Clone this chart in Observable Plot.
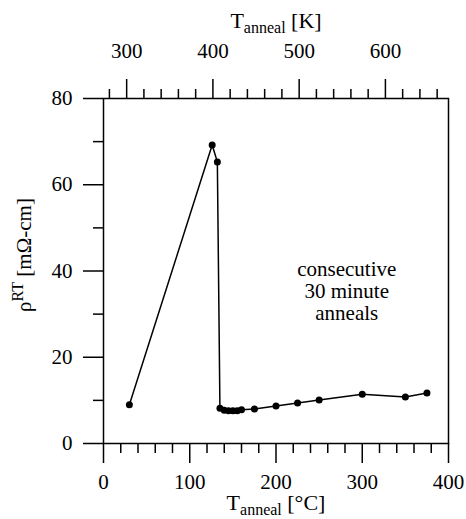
<!DOCTYPE html>
<html><head><meta charset="utf-8">
<script src="https://cdn.jsdelivr.net/npm/d3@7"></script>
<script src="https://cdn.jsdelivr.net/npm/@observablehq/plot@0.6"></script>
<style>body{margin:0;background:#fff} svg{display:block}</style>
</head><body><div id="chart"></div>
<script>
// Data
const tempC = [30, 126, 132, 135, 140, 145, 150, 155, 160, 175, 200, 225, 250, 300, 350, 375];
const rho   = [9.0, 69.2, 65.3, 8.2, 7.7, 7.6, 7.6, 7.6, 7.8, 8.0, 8.7, 9.4, 10.1, 11.4, 10.8, 11.7];

// Ticks
const xMajor = [0, 100, 200, 300, 400];
const xMinor = [20, 40, 60, 80, 120, 140, 160, 180, 220, 240, 260, 280, 320, 340, 360, 380];
const kMajor = [300, 400, 500, 600];
const kMinor = [280, 320, 340, 360, 380, 420, 440, 460, 480, 520, 540, 560, 580, 620, 640, 660];
const yMajor = [0, 20, 40, 60, 80];
const yMinor = [10, 30, 50, 70];
const kelvinOffset = 273.15;

// Texts
const topTitle = ["T_{anneal} [K]"];
const bottomTitle = ["T_{anneal} [°C]"];
const yTitle = ["ρ^{RT} [mΩ-cm]"];
const annotation = ["consecutive\n30 minute\nanneals"];
const annotX = [282];
const annotY = [35.3];

const font = "Times New Roman, Liberation Serif, DejaVu Serif, serif";

const chart = Plot.plot({
  width: 466, height: 519,
  marginLeft: 103, marginRight: 18, marginTop: 98, marginBottom: 76,
  style: {fontFamily: font, fontSize: "21px", color: "black", background: "white"},
  x: {domain: [0, 400]},
  y: {domain: [0, 80]},
  marks: [
    Plot.axisX({anchor: "bottom", ticks: xMajor, tickSize: 20, tickPadding: 11, label: null, strokeWidth: 1.5}),
    Plot.axisX({anchor: "bottom", ticks: xMinor, tickSize: 10, tickFormat: () => "", label: null, strokeWidth: 1.5}),
    Plot.axisX({anchor: "top", ticks: kMajor.map(k => k - kelvinOffset), tickFormat: d => Math.round(d + kelvinOffset), tickSize: 20, tickPadding: 21, label: null, strokeWidth: 1.5}),
    Plot.axisX({anchor: "top", ticks: kMinor.map(k => k - kelvinOffset), tickSize: 10, tickFormat: () => "", label: null, strokeWidth: 1.5}),
    Plot.axisY({ticks: yMajor, tickSize: 20, tickPadding: 11, label: null, strokeWidth: 1.5}),
    Plot.axisY({ticks: yMinor, tickSize: 10, tickFormat: () => "", label: null, strokeWidth: 1.5}),
    Plot.frame({strokeWidth: 1.5}),
    Plot.line(rho, {x: tempC, y: rho, stroke: "black", strokeWidth: 1.5}),
    Plot.dot(rho, {x: tempC, y: rho, r: 3.5, fill: "black", stroke: "none"}),
    Plot.text(annotation, {x: annotX, y: annotY, text: d => d, fontSize: 21, lineHeight: 1.05}),
    Plot.text(topTitle, {frameAnchor: "top", dy: -86, text: d => d, fontSize: 22}),
    Plot.text(bottomTitle, {frameAnchor: "bottom", dy: 66, text: d => d, fontSize: 22}),
    Plot.text(yTitle, {frameAnchor: "left", textAnchor: "middle", dx: -79, dy: -16, rotate: -90, text: d => d, fontSize: 21})
  ]
});

// Turn _{..} and ^{..} into subscript / superscript tspans
d3.select(chart).selectAll("text").each(function() {
  const el = this;
  const s = el.textContent;
  if (!/[_^]\{/.test(s)) return;
  el.textContent = "";
  const re = /([_^])\{([^}]*)\}|([^_^]+)/g;
  let m, shift = 0;
  while ((m = re.exec(s))) {
    const t = document.createElementNS("http://www.w3.org/2000/svg", "tspan");
    if (m[1]) {
      const d = m[1] === "_" ? 5 : -8;
      t.setAttribute("dy", d - shift);
      shift = d;
      t.setAttribute("font-size", "16px");
      t.textContent = m[2];
    } else {
      t.setAttribute("dy", -shift);
      shift = 0;
      t.textContent = m[3];
    }
    el.appendChild(t);
  }
});

document.getElementById("chart").appendChild(chart);
</script>
</body></html>
